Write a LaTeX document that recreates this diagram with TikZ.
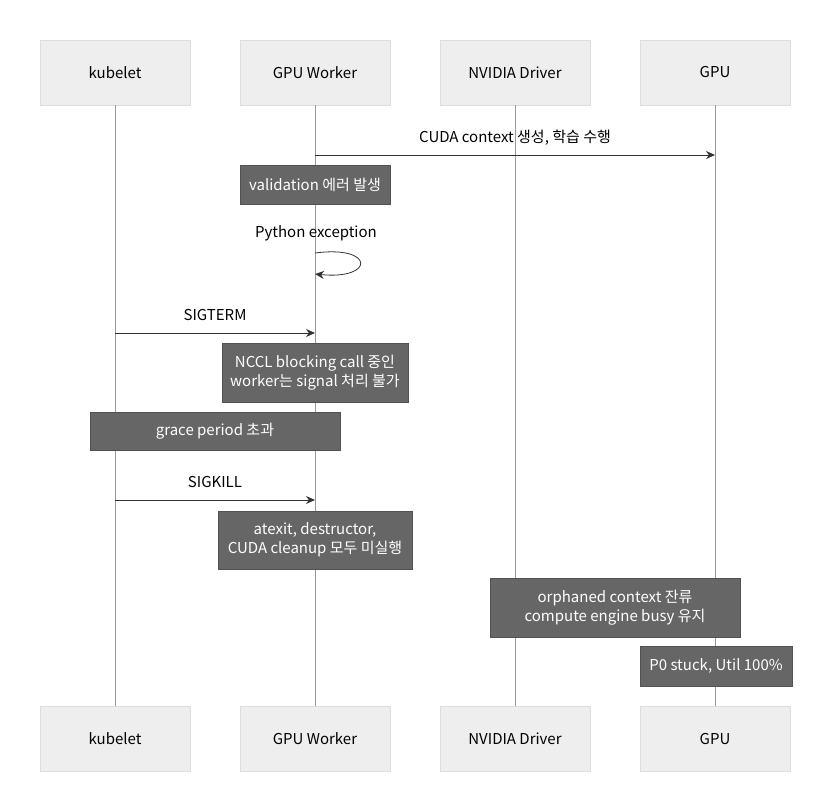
\documentclass[tikz,border=0pt]{standalone}
\usepackage{fontspec}
\setmainfont{Noto Sans CJK KR}
\usetikzlibrary{arrows.meta, positioning, calc}
\definecolor{actorFill}{HTML}{EEEEEE}
\definecolor{actorLine}{HTML}{DDDDDD}
\definecolor{noteFill}{HTML}{666666}
\definecolor{lifeLine}{HTML}{999999}
\definecolor{msgLine}{HTML}{333333}
\tikzset{
    % Participant boxes
    actor/.style={
        rectangle,
        minimum width=150pt,
        minimum height=65pt,
        fill=actorFill,
        draw=actorLine,
        text=black,
        font=\fontsize{15}{19}\selectfont
    },
    % Dark notes
    note/.style={
        rectangle,
        fill=noteFill,
        draw=noteFill!80!black,
        text=white,
        align=center,
        inner sep=0pt,
        font=\fontsize{15}{19}\selectfont
    },
    % Lines & labels
    life/.style={draw=lifeLine, line width=0.8pt},
    msg/.style={-{Stealth[length=9pt,width=8pt]}, draw=msgLine, line width=0.8pt},
    msgLabel/.style={font=\fontsize{15}{19}\selectfont, text=black}
}
\begin{document}
\begin{tikzpicture}[x=1pt, y=-1pt]

    \useasboundingbox (0,0) rectangle (832,811);

    % --- Participants (top and bottom) ---
    \foreach \name/\lbl/\cx in {kube/kubelet/115, worker/GPU Worker/315, driver/NVIDIA Driver/515, gpu/GPU/715} {
        \node (\name Top) [actor] at (\cx,72.5) {\lbl};
        \node (\name Bot) [actor] at (\cx,738.5) {\lbl};
        \draw [life] (\name Top.south) -- (\name Bot.north);
    }

    % --- Lifeline anchors ---
    \coordinate (wA) at (315,155);
    \coordinate (gA) at (715,155);
    \coordinate (kB) at (115,333);
    \coordinate (wB) at (315,333);
    \coordinate (kC) at (115,500);
    \coordinate (wC) at (315,500);
    \coordinate (wL) at (315,253);

    % --- Messages ---
    \draw [msg] (wA) -- (gA) node [msgLabel, midway, above=6pt] {CUDA context 생성, 학습 수행};

    \node (noteValid) [note, minimum width=150pt, minimum height=39pt] at (315,184.5) {validation 에러 발생};

    \node (lblExc) [msgLabel] at (316,233) {Python exception};
    \draw [msg] (wL) .. controls (375,245) and (375,280) .. ($(wL)+(0,21)$);

    \draw [msg] (kB) -- (wB) node [msgLabel, midway, above=9pt] {SIGTERM};

    \node (noteNccl) [note, minimum width=186pt, minimum height=59pt] at (315,372.5) {NCCL blocking call 중인\\worker는 signal 처리 불가};

    \node (noteGrace) [note, minimum width=250pt, minimum height=38pt] at (215,431) {grace period 초과};

    \draw [msg] (kC) -- (wC) node [msgLabel, midway, above=9pt] {SIGKILL};

    \node (noteExit) [note, minimum width=194pt, minimum height=58pt] at (315,540) {atexit, destructor,\\CUDA cleanup 모두 미실행};

    \node (noteOrphan) [note, minimum width=250pt, minimum height=59pt] at (615,607.5) {orphaned context 잔류\\compute engine busy 유지};

    \node (noteP0) [note, minimum width=152pt, minimum height=40pt] at (716,666) {P0 stuck, Util 100\%};

\end{tikzpicture}
\end{document}
